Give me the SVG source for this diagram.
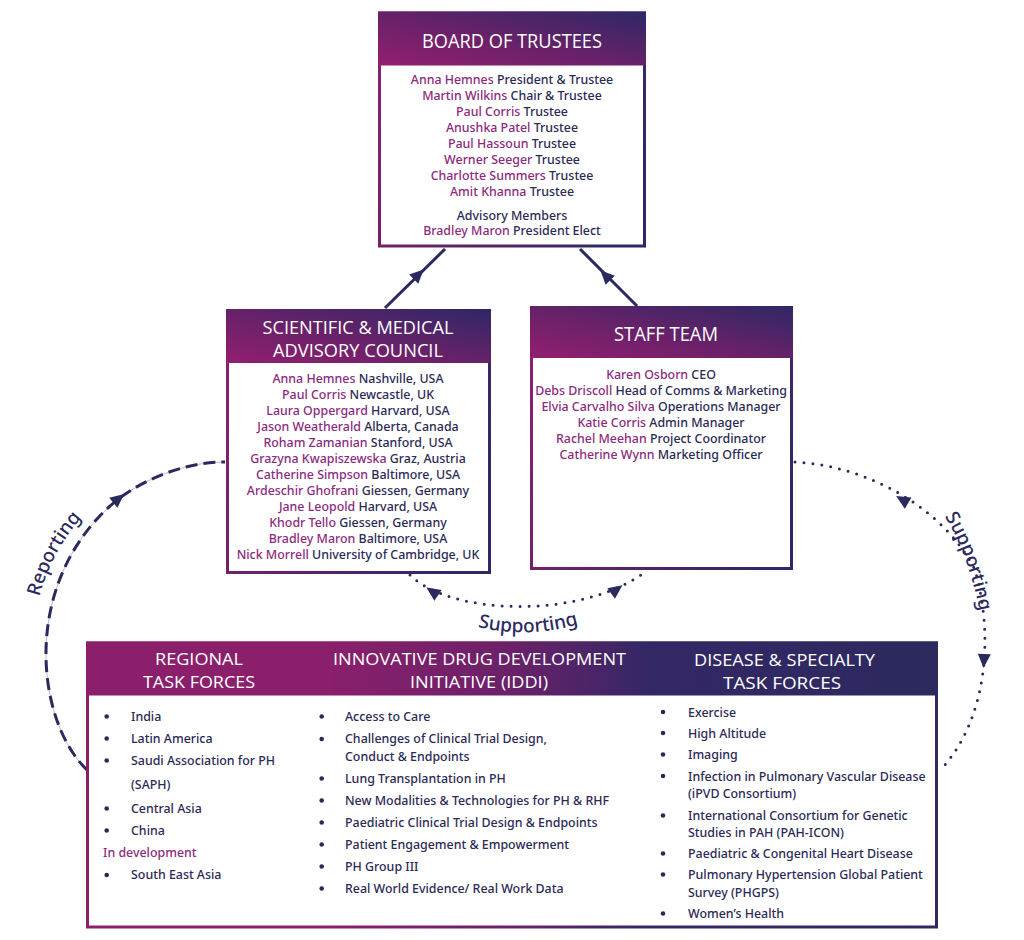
<svg xmlns="http://www.w3.org/2000/svg" xmlns:xlink="http://www.w3.org/1999/xlink" width="1024" height="940" viewBox="0 0 1024 940">
<defs>
<linearGradient id="gHead" x1="0" y1="1" x2="1" y2="0">
<stop offset="0" stop-color="#931f70"/>
<stop offset="0.45" stop-color="#6a2169"/>
<stop offset="1" stop-color="#2e2866"/>
</linearGradient>
<linearGradient id="gBorder" x1="0" y1="0.3" x2="1" y2="0.7">
<stop offset="0" stop-color="#87206f"/>
<stop offset="0.5" stop-color="#5c2268"/>
<stop offset="1" stop-color="#2e2866"/>
</linearGradient>
<linearGradient id="gWide" x1="0" y1="0" x2="1" y2="0">
<stop offset="0" stop-color="#8b1f6c"/>
<stop offset="0.28" stop-color="#8b1f6c"/>
<stop offset="0.5" stop-color="#6a2169"/>
<stop offset="0.66" stop-color="#342766"/>
<stop offset="1" stop-color="#2c2a5e"/>
</linearGradient>
<path id="ah" d="M 8 0 L -6 -6.5 L -6 6.5 Z" fill="#2b2a5e"/>
</defs>
<style>
.hd{font-family:"Open Sans","Liberation Sans",sans-serif;fill:#ffffff;text-anchor:middle;}
.bd{font-family:"Noto Sans","Liberation Sans",sans-serif;font-size:12.4px;font-weight:500;fill:#2b2a55;}
.c{text-anchor:middle;}
.nm{fill:#8c2b7e;}
.bl{fill:#2b2a55;}
.lbl{font-family:"Noto Sans","Liberation Sans",sans-serif;font-size:19px;font-weight:500;fill:#2b2a5e;}
.solid{stroke:#2b2a5e;stroke-width:3;fill:none;}
.dash{stroke:#2b2a5e;stroke-width:3;fill:none;stroke-dasharray:12 6;}
.thin{stroke:#b9b9c4;stroke-width:1;fill:none;}
.dot{stroke:#2b2a5e;stroke-width:3;fill:none;stroke-dasharray:0 9;stroke-linecap:round;}
</style>

<g id="connectors">
<line class="solid" x1="385" y1="308" x2="445" y2="249"/>
<use xlink:href="#ah" transform="translate(418,275) rotate(-44.5)"/>
<line class="solid" x1="637" y1="306" x2="580" y2="249"/>
<use xlink:href="#ah" transform="translate(606,276) rotate(-135)"/>

<path class="thin" d="M 87 770 C 35 720, 20 580, 117 500 C 150 475, 190 462, 225 462"/>
<path class="dash" d="M 87 770 C 35 720, 20 580, 117 500 C 150 475, 190 462, 225 462"/>
<use xlink:href="#ah" transform="translate(118,499) rotate(-39)"/>

<path class="dot" d="M 795 462 C 870 466, 945 510, 975 570 C 995 640, 985 720, 943 767"/>
<use xlink:href="#ah" transform="translate(903,500) rotate(211)"/>
<use xlink:href="#ah" transform="translate(984,660) rotate(93)"/>

<path class="dot" d="M 410 575 C 450 615, 580 620, 645 572"/>
<use xlink:href="#ah" transform="translate(433,592) rotate(214)"/>
<use xlink:href="#ah" transform="translate(616,590) rotate(-36)"/>

<path id="pRep" d="M 36 612 Q 47 552 92 506" fill="none"/>
<path id="pSupR" d="M 938 506 Q 970 552 982 624" fill="none"/>
<path id="pSupM" d="M 470 625 Q 527 641 586 622" fill="none"/>
<text class="lbl"><textPath xlink:href="#pRep" startOffset="50%" text-anchor="middle">Reporting</textPath></text>
<text class="lbl"><textPath xlink:href="#pSupR" startOffset="50%" text-anchor="middle">Supporting</textPath></text>
<text class="lbl"><textPath xlink:href="#pSupM" startOffset="50%" text-anchor="middle">Supporting</textPath></text>
</g>

<g id="board">
<rect x="379.5" y="13" width="265" height="233" fill="#ffffff" stroke="url(#gBorder)" stroke-width="3"/>
<rect x="378" y="11.5" width="268" height="54" fill="url(#gHead)"/>
<text class="hd" x="512" y="48" font-size="20.5" textLength="180" lengthAdjust="spacingAndGlyphs">BOARD OF TRUSTEES</text>
<text class="bd c" x="512" y="84"><tspan class="nm">Anna Hemnes</tspan> President &amp; Trustee</text>
<text class="bd c" x="512" y="100"><tspan class="nm">Martin Wilkins</tspan> Chair &amp; Trustee</text>
<text class="bd c" x="512" y="116"><tspan class="nm">Paul Corris</tspan> Trustee</text>
<text class="bd c" x="512" y="132"><tspan class="nm">Anushka Patel</tspan> Trustee</text>
<text class="bd c" x="512" y="148"><tspan class="nm">Paul Hassoun</tspan> Trustee</text>
<text class="bd c" x="512" y="164"><tspan class="nm">Werner Seeger</tspan> Trustee</text>
<text class="bd c" x="512" y="180"><tspan class="nm">Charlotte Summers</tspan> Trustee</text>
<text class="bd c" x="512" y="196"><tspan class="nm">Amit Khanna</tspan> Trustee</text>
<text class="bd c" x="512" y="220" font-size="13.6">Advisory Members</text>
<text class="bd c" x="512" y="235"><tspan class="nm">Bradley Maron</tspan> President Elect</text>
</g>

<g id="smac">
<rect x="227.5" y="310.5" width="262" height="262" fill="#ffffff" stroke="url(#gBorder)" stroke-width="3"/>
<rect x="226" y="309" width="265" height="54" fill="url(#gHead)"/>
<text class="hd" x="358" y="334" font-size="17.5" textLength="191" lengthAdjust="spacingAndGlyphs">SCIENTIFIC &amp; MEDICAL</text>
<text class="hd" x="358" y="357" font-size="17.5" textLength="170" lengthAdjust="spacingAndGlyphs">ADVISORY COUNCIL</text>
<text class="bd c" x="358" y="383"><tspan class="nm">Anna Hemnes</tspan> Nashville, USA</text>
<text class="bd c" x="358" y="399"><tspan class="nm">Paul Corris</tspan> Newcastle, UK</text>
<text class="bd c" x="358" y="415"><tspan class="nm">Laura Oppergard</tspan> Harvard, USA</text>
<text class="bd c" x="358" y="431"><tspan class="nm">Jason Weatherald</tspan> Alberta, Canada</text>
<text class="bd c" x="358" y="447"><tspan class="nm">Roham Zamanian</tspan> Stanford, USA</text>
<text class="bd c" x="358" y="463"><tspan class="nm">Grazyna Kwapiszewska</tspan> Graz, Austria</text>
<text class="bd c" x="358" y="479"><tspan class="nm">Catherine Simpson</tspan> Baltimore, USA</text>
<text class="bd c" x="358" y="495"><tspan class="nm">Ardeschir Ghofrani</tspan> Giessen, Germany</text>
<text class="bd c" x="358" y="511"><tspan class="nm">Jane Leopold</tspan> Harvard, USA</text>
<text class="bd c" x="358" y="527"><tspan class="nm">Khodr Tello</tspan> Giessen, Germany</text>
<text class="bd c" x="358" y="543"><tspan class="nm">Bradley Maron</tspan> Baltimore, USA</text>
<text class="bd c" x="358" y="559"><tspan class="nm">Nick Morrell</tspan> University of Cambridge, UK</text>
</g>

<g id="staff">
<rect x="531.5" y="307.5" width="260" height="261" fill="#ffffff" stroke="url(#gBorder)" stroke-width="3"/>
<rect x="530" y="306" width="263" height="52" fill="url(#gHead)"/>
<text class="hd" x="666" y="341" font-size="19.5" textLength="104" lengthAdjust="spacingAndGlyphs">STAFF TEAM</text>
<text class="bd c" x="661" y="379"><tspan class="nm">Karen Osborn</tspan> CEO</text>
<text class="bd c" x="661" y="395"><tspan class="nm">Debs Driscoll</tspan> Head of Comms &amp; Marketing</text>
<text class="bd c" x="661" y="411"><tspan class="nm">Elvia Carvalho Silva</tspan> Operations Manager</text>
<text class="bd c" x="661" y="427"><tspan class="nm">Katie Corris</tspan> Admin Manager</text>
<text class="bd c" x="661" y="443"><tspan class="nm">Rachel Meehan</tspan> Project Coordinator</text>
<text class="bd c" x="661" y="459"><tspan class="nm">Catherine Wynn</tspan> Marketing Officer</text>
</g>

<g id="taskforces">
<rect x="87.5" y="643" width="849" height="284" fill="#ffffff" stroke="url(#gWide)" stroke-width="3"/>
<rect x="86" y="641.5" width="852" height="54" fill="url(#gWide)"/>
<text class="hd" x="199" y="665" font-size="17" textLength="88" lengthAdjust="spacingAndGlyphs">REGIONAL</text>
<text class="hd" x="199" y="688" font-size="17" textLength="112" lengthAdjust="spacingAndGlyphs">TASK FORCES</text>
<text class="hd" x="479.5" y="665" font-size="17" textLength="293" lengthAdjust="spacingAndGlyphs">INNOVATIVE DRUG DEVELOPMENT</text>
<text class="hd" x="479" y="688" font-size="17" textLength="138" lengthAdjust="spacingAndGlyphs">INITIATIVE (IDDI)</text>
<text class="hd" x="784.5" y="666" font-size="17" textLength="181" lengthAdjust="spacingAndGlyphs">DISEASE &amp; SPECIALTY</text>
<text class="hd" x="782" y="689" font-size="17" textLength="118" lengthAdjust="spacingAndGlyphs">TASK FORCES</text>

<g class="bl">
<circle cx="106.7" cy="716.5" r="2.3"/>
<circle cx="106.7" cy="738.5" r="2.3"/>
<circle cx="106.7" cy="760.5" r="2.3"/>
<circle cx="106.7" cy="808.5" r="2.3"/>
<circle cx="106.7" cy="830.5" r="2.3"/>
<circle cx="106.7" cy="875" r="2.3"/>
</g>
<text class="bd" x="131" y="721">India</text>
<text class="bd" x="131" y="743">Latin America</text>
<text class="bd" x="131" y="765">Saudi Association for PH</text>
<text class="bd" x="131" y="789">(SAPH)</text>
<text class="bd" x="131" y="813">Central Asia</text>
<text class="bd" x="131" y="835">China</text>
<text class="bd nm" x="103" y="857">In development</text>
<text class="bd" x="131" y="879">South East Asia</text>

<g class="bl">
<circle cx="321.7" cy="716.5" r="2.3"/>
<circle cx="321.7" cy="739" r="2.3"/>
<circle cx="321.7" cy="778.5" r="2.3"/>
<circle cx="321.7" cy="800.5" r="2.3"/>
<circle cx="321.7" cy="822.5" r="2.3"/>
<circle cx="321.7" cy="844.5" r="2.3"/>
<circle cx="321.7" cy="866.5" r="2.3"/>
<circle cx="321.7" cy="888.5" r="2.3"/>
</g>
<text class="bd" x="345" y="721">Access to Care</text>
<text class="bd" x="345" y="743">Challenges of Clinical Trial Design,</text>
<text class="bd" x="345" y="761">Conduct &amp; Endpoints</text>
<text class="bd" x="345" y="783">Lung Transplantation in PH</text>
<text class="bd" x="345" y="805">New Modalities &amp; Technologies for PH &amp; RHF</text>
<text class="bd" x="345" y="827">Paediatric Clinical Trial Design &amp; Endpoints</text>
<text class="bd" x="345" y="849">Patient Engagement &amp; Empowerment</text>
<text class="bd" x="345" y="871">PH Group III</text>
<text class="bd" x="345" y="893">Real World Evidence/ Real Work Data</text>

<g class="bl">
<circle cx="663" cy="712" r="2.3"/>
<circle cx="663" cy="733" r="2.3"/>
<circle cx="663" cy="754.5" r="2.3"/>
<circle cx="663" cy="776" r="2.3"/>
<circle cx="663" cy="815.5" r="2.3"/>
<circle cx="663" cy="853.5" r="2.3"/>
<circle cx="663" cy="874.5" r="2.3"/>
<circle cx="663" cy="913.5" r="2.3"/>
</g>
<text class="bd" x="688" y="717">Exercise</text>
<text class="bd" x="688" y="738">High Altitude</text>
<text class="bd" x="688" y="759">Imaging</text>
<text class="bd" x="688" y="781">Infection in Pulmonary Vascular Disease</text>
<text class="bd" x="688" y="798">(iPVD Consortium)</text>
<text class="bd" x="688" y="820">International Consortium for Genetic</text>
<text class="bd" x="688" y="837">Studies in PAH (PAH-ICON)</text>
<text class="bd" x="688" y="858">Paediatric &amp; Congenital Heart Disease</text>
<text class="bd" x="688" y="879">Pulmonary Hypertension Global Patient</text>
<text class="bd" x="688" y="897">Survey (PHGPS)</text>
<text class="bd" x="688" y="918">Women’s Health</text>
</g>
</svg>
